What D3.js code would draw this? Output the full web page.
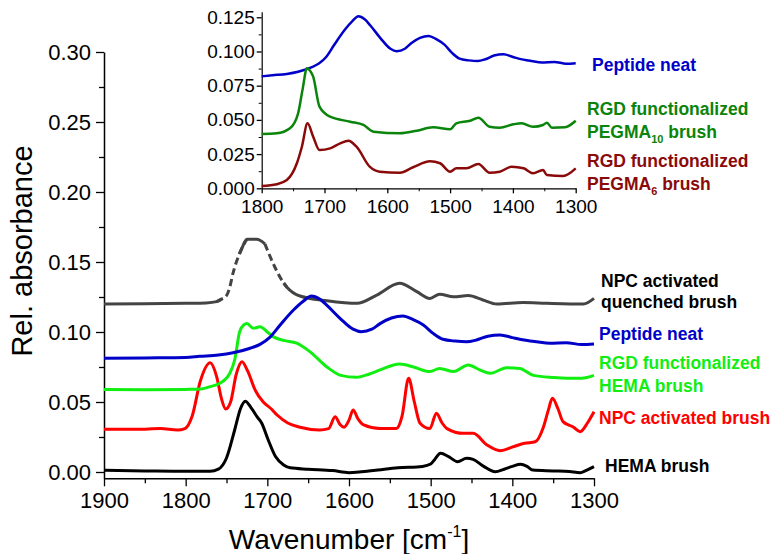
<!DOCTYPE html>
<html><head><meta charset="utf-8">
<script src="https://cdn.jsdelivr.net/npm/d3@7"></script>
<style>body{margin:0;background:#fff}svg{display:block}text{font-family:"Liberation Sans",Arial,Helvetica,sans-serif}</style>
</head><body><svg id="c" width="774" height="554"></svg>
<script>
// ---- data: [wavenumber cm-1, relative absorbance] ----
const hemaBrush = [[1900,0.0012],[1850,0.0008],[1800,0.0005],[1770,0.0005],[1760,0.002],[1750,0.010],[1740,0.030],[1733,0.045],[1727,0.0505],[1720,0.046],[1712,0.039],[1707,0.035],[1699,0.023],[1690,0.011],[1680,0.005],[1672,0.003],[1650,0.002],[1620,0.001],[1600,-0.0005],[1570,0.001],[1540,0.003],[1510,0.004],[1500,0.0057],[1495,0.009],[1488,0.0134],[1478,0.011],[1467,0.0074],[1456,0.0098],[1448,0.009],[1435,0.004],[1421,0.0002],[1410,0.002],[1400,0.004],[1390,0.0055],[1382,0.004],[1375,0.0014],[1350,0.0008],[1330,0.0003],[1317,-0.0005],[1310,0.001],[1300,0.0038]];
const npcBrush = [[1900,0.0305],[1860,0.0305],[1831,0.031],[1810,0.030],[1801,0.031],[1792,0.040],[1782,0.065],[1770,0.078],[1762,0.068],[1756,0.052],[1751,0.045],[1745,0.050],[1738,0.070],[1731,0.0788],[1724,0.072],[1715,0.0586],[1705,0.050],[1695,0.045],[1688,0.0407],[1675,0.035],[1660,0.032],[1636,0.030],[1625,0.031],[1617,0.0395],[1611,0.034],[1606,0.032],[1600,0.037],[1595,0.0443],[1589,0.038],[1582,0.0336],[1562,0.031],[1542,0.031],[1535,0.040],[1527,0.0669],[1520,0.050],[1513,0.0348],[1501,0.031],[1493,0.042],[1486,0.035],[1480,0.031],[1460,0.0276],[1448,0.0276],[1431,0.0193],[1415,0.0152],[1399,0.018],[1385,0.0205],[1372,0.0216],[1362,0.032],[1356,0.044],[1351,0.0526],[1344,0.045],[1338,0.036],[1325,0.032],[1317,0.0288],[1308,0.035],[1300,0.043]];
const rgdHema = [[1900,0.059],[1850,0.0588],[1800,0.059],[1782,0.0592],[1770,0.061],[1758,0.0634],[1746,0.0705],[1740,0.080],[1734,0.100],[1729,0.105],[1725,0.106],[1717,0.1026],[1709,0.1038],[1700,0.100],[1693,0.0967],[1680,0.094],[1664,0.092],[1648,0.086],[1627,0.075],[1610,0.069],[1591,0.0676],[1575,0.070],[1562,0.0729],[1538,0.0771],[1521,0.075],[1501,0.0717],[1489,0.074],[1472,0.0717],[1454,0.0764],[1440,0.073],[1427,0.0705],[1407,0.0745],[1391,0.074],[1374,0.069],[1350,0.0675],[1333,0.067],[1315,0.067],[1300,0.069]];
const peptideNeat = [[1900,0.0812],[1850,0.0815],[1800,0.0818],[1783,0.0826],[1760,0.0836],[1742,0.0852],[1721,0.0884],[1709,0.0912],[1697,0.0962],[1685,0.1045],[1668,0.1157],[1656,0.122],[1646,0.1257],[1636,0.1235],[1627,0.119],[1611,0.1098],[1595,0.102],[1585,0.1002],[1572,0.102],[1562,0.106],[1548,0.110],[1534,0.1114],[1522,0.109],[1509,0.105],[1497,0.099],[1485,0.0948],[1470,0.0935],[1456,0.093],[1444,0.0943],[1430,0.097],[1415,0.0979],[1400,0.096],[1391,0.0948],[1370,0.093],[1354,0.092],[1334,0.0924],[1315,0.091],[1300,0.0914]];
const npcQuenched = [[1900,0.120],[1850,0.1202],[1800,0.1205],[1775,0.1208],[1762,0.1217],[1756,0.1235],[1750,0.126],[1746,0.132],[1742,0.142],[1734,0.156],[1731,0.160],[1725,0.1662],[1713,0.1662],[1703,0.163],[1691,0.1466],[1680,0.135],[1676,0.132],[1660,0.1257],[1627,0.1224],[1590,0.1205],[1566,0.1264],[1538,0.1348],[1517,0.1288],[1501,0.124],[1489,0.127],[1472,0.1252],[1454,0.126],[1436,0.1229],[1419,0.120],[1387,0.121],[1358,0.1205],[1313,0.120],[1300,0.124]];
const pegma10 = [[1800,0.0397],[1776,0.0402],[1755,0.0439],[1742,0.0548],[1735,0.072],[1728,0.0877],[1723,0.086],[1718,0.0816],[1708,0.0597],[1691,0.0523],[1659,0.0487],[1638,0.0463],[1622,0.0414],[1580,0.0402],[1553,0.0421],[1527,0.0446],[1500,0.0431],[1490,0.0475],[1468,0.0494],[1455,0.0516],[1437,0.045],[1421,0.0443],[1399,0.0468],[1386,0.0475],[1368,0.045],[1352,0.0463],[1346,0.048],[1338,0.0443],[1317,0.0446],[1300,0.0494]];
const pegma6 = [[1800,0.0017],[1776,0.003],[1760,0.006],[1744,0.0183],[1736,0.0304],[1727,0.0475],[1718,0.0377],[1708,0.028],[1691,0.0292],[1675,0.0329],[1662,0.0348],[1649,0.0304],[1628,0.0158],[1612,0.0121],[1580,0.0114],[1559,0.0154],[1532,0.0197],[1516,0.0183],[1500,0.0121],[1490,0.0146],[1474,0.0146],[1455,0.0178],[1437,0.0114],[1421,0.0121],[1402,0.0158],[1383,0.0146],[1368,0.011],[1352,0.0134],[1346,0.0097],[1320,0.009],[1300,0.0146]];
const mainXTicks = [1900,1800,1700,1600,1500,1400,1300];
const mainYTicks = [0,0.05,0.10,0.15,0.20,0.25,0.30];
const insetXTicks = [1800,1700,1600,1500,1400,1300];
const insetYTicks = [0,0.025,0.05,0.075,0.10,0.125];
const quenchedDashed = [[1758,1731],[1704,1680]];

const svg = d3.select("#c");
const FONT = '"Liberation Sans",Arial,sans-serif';

// ---- main chart ----
const x = d3.scaleLinear().domain([1900,1300]).range([104,594]);
const y = d3.scaleLinear().domain([-0.0045,0.30]).range([478.3,52]);
const line = d3.line().x(d=>x(d[0])).y(d=>y(d[1])).curve(d3.curveMonotoneX);

function styleAxis(g, fs){
  g.selectAll("path.domain").attr("stroke","#000").attr("stroke-width",1.5);
  g.selectAll(".tick line").attr("stroke","#000").attr("stroke-width",1.3);
  g.selectAll(".tick text").attr("font-size",fs).attr("fill","#000").style("font-family",FONT);
}
const gx = svg.append("g").attr("transform","translate(0,478.3)")
  .call(d3.axisBottom(x).tickValues(mainXTicks).tickSize(8).tickSizeOuter(0).tickPadding(6).tickFormat(d3.format("d")));
styleAxis(gx,22);
svg.append("g").attr("transform","translate(0,478.3)")
  .call(d3.axisBottom(x).tickValues(d3.range(1850,1300,-100)).tickSize(5).tickSizeOuter(0).tickFormat(""))
  .call(g=>{g.select("path.domain").remove();g.selectAll("line").attr("stroke","#000").attr("stroke-width",1.3);});
const gy = svg.append("g").attr("transform","translate(104,0)")
  .call(d3.axisLeft(y).tickValues(mainYTicks).tickSize(8).tickSizeOuter(0).tickPadding(5).tickFormat(d3.format(".2f")));
styleAxis(gy,22);
svg.append("g").attr("transform","translate(104,0)")
  .call(d3.axisLeft(y).tickValues(d3.range(0.025,0.3,0.05)).tickSize(5).tickSizeOuter(0).tickFormat(""))
  .call(g=>{g.select("path.domain").remove();g.selectAll("line").attr("stroke","#000").attr("stroke-width",1.3);});

// quenched brush split into solid / dashed pieces
function pieces(data, ranges){
  const out=[]; let bounds=[1900];
  ranges.forEach(r=>{bounds.push(r[0]);bounds.push(r[1]);}); bounds.push(1300);
  for(let i=0;i<bounds.length-1;i++){
    const hi=bounds[i], lo=bounds[i+1];
    const seg=data.filter(d=>d[0]<=hi+6 && d[0]>=lo-6);
    out.push({seg, dashed: i%2===1});
  }
  return out;
}
const mainSeries = [
  {d:hemaBrush,c:"#000000"},
  {d:npcBrush,c:"#ff0000"},
  {d:rgdHema,c:"#11ee11"},
  {d:peptideNeat,c:"#0000c8"}
];
pieces(npcQuenched, quenchedDashed).forEach(p=>{
  svg.append("path").attr("d",line(p.seg)).attr("fill","none").attr("stroke","#444444")
    .attr("stroke-width",3).attr("stroke-dasharray",p.dashed?"7,4":null);
});
mainSeries.forEach(s=>{
  svg.append("path").attr("d",line(s.d)).attr("fill","none").attr("stroke",s.c).attr("stroke-width",3).attr("stroke-linejoin","round");
});

// axis titles
svg.append("text").attr("transform","translate(32,251) rotate(-90)").attr("text-anchor","middle")
  .attr("font-size",29).style("font-family",FONT).text("Rel. absorbance");
const xt = svg.append("text").attr("x",349).attr("y",549).attr("text-anchor","middle").attr("font-size",28).style("font-family",FONT);
xt.append("tspan").text("Wavenumber [cm");
xt.append("tspan").attr("font-size",16).attr("dy",-12).text("-1");
xt.append("tspan").attr("dy",12).text("]");

// main labels
const mainLabels = [
  {t:"NPC activated",x:601,y:287,c:"#000"},
  {t:"quenched brush",x:601,y:308,c:"#000"},
  {t:"Peptide neat",x:599,y:340,c:"#0000c8"},
  {t:"RGD functionalized",x:599,y:369,c:"#11ee11"},
  {t:"HEMA brush",x:599,y:392,c:"#11ee11"},
  {t:"NPC activated brush",x:599,y:424,c:"#ff0000"},
  {t:"HEMA brush",x:605,y:472,c:"#000"}
];
mainLabels.forEach(l=>svg.append("text").attr("x",l.x).attr("y",l.y).attr("fill",l.c)
  .attr("font-size",17.5).attr("font-weight","bold").style("font-family",FONT).text(l.t));

// ---- inset ----
const ix = d3.scaleLinear().domain([1800,1300]).range([261.7,575.7]);
const iy = d3.scaleLinear().domain([0,0.129]).range([188.3,11.8]);
const iline = d3.line().x(d=>ix(d[0])).y(d=>iy(d[1])).curve(d3.curveMonotoneX);
const igx = svg.append("g").attr("transform","translate(0,188.3)")
  .call(d3.axisBottom(ix).tickValues(insetXTicks).tickSize(5).tickSizeOuter(0).tickPadding(6).tickFormat(d3.format("d")));
styleAxis(igx,19);
svg.append("g").attr("transform","translate(0,188.3)")
  .call(d3.axisBottom(ix).tickValues(d3.range(1750,1300,-100)).tickSize(3).tickSizeOuter(0).tickFormat(""))
  .call(g=>{g.select("path.domain").remove();g.selectAll("line").attr("stroke","#000");});
const igy = svg.append("g").attr("transform","translate(261.7,0)")
  .call(d3.axisLeft(iy).tickValues(insetYTicks).tickSize(5).tickSizeOuter(0).tickPadding(2).tickFormat(d3.format(".3f")));
styleAxis(igy,19);
svg.append("g").attr("transform","translate(261.7,0)")
  .call(d3.axisLeft(iy).tickValues(d3.range(0.0125,0.129,0.025)).tickSize(3).tickSizeOuter(0).tickFormat(""))
  .call(g=>{g.select("path.domain").remove();g.selectAll("line").attr("stroke","#000");});
igx.selectAll("path.domain").attr("stroke-width",1.2);
igy.selectAll("path.domain").attr("stroke-width",1.2);

const insetSeries = [
  {d:peptideNeat.filter(p=>p[0]<=1800),c:"#0000c8"},
  {d:pegma10,c:"#0a840a"},
  {d:pegma6,c:"#8a0a0a"}
];
insetSeries.forEach(s=>{
  svg.append("path").attr("d",iline(s.d)).attr("fill","none").attr("stroke",s.c).attr("stroke-width",2.5).attr("stroke-linejoin","round");
});

function subLabel(x0,y0,c,main,sub,rest){
  const t=svg.append("text").attr("x",x0).attr("y",y0).attr("fill",c).attr("font-size",17.5).attr("font-weight","bold").style("font-family",FONT);
  t.append("tspan").text(main);
  t.append("tspan").attr("font-size",11).attr("dy",5).text(sub);
  t.append("tspan").attr("dy",-5).text(rest);
}
svg.append("text").attr("x",592).attr("y",71).attr("fill","#0000c8").attr("font-size",17.5).attr("font-weight","bold").style("font-family",FONT).text("Peptide neat");
svg.append("text").attr("x",587).attr("y",115).attr("fill","#0a840a").attr("font-size",17.5).attr("font-weight","bold").style("font-family",FONT).text("RGD functionalized");
subLabel(587,138,"#0a840a","PEGMA","10"," brush");
svg.append("text").attr("x",587).attr("y",167).attr("fill","#8a0a0a").attr("font-size",17.5).attr("font-weight","bold").style("font-family",FONT).text("RGD functionalized");
subLabel(587,190,"#8a0a0a","PEGMA","6"," brush");
</script></body></html>
